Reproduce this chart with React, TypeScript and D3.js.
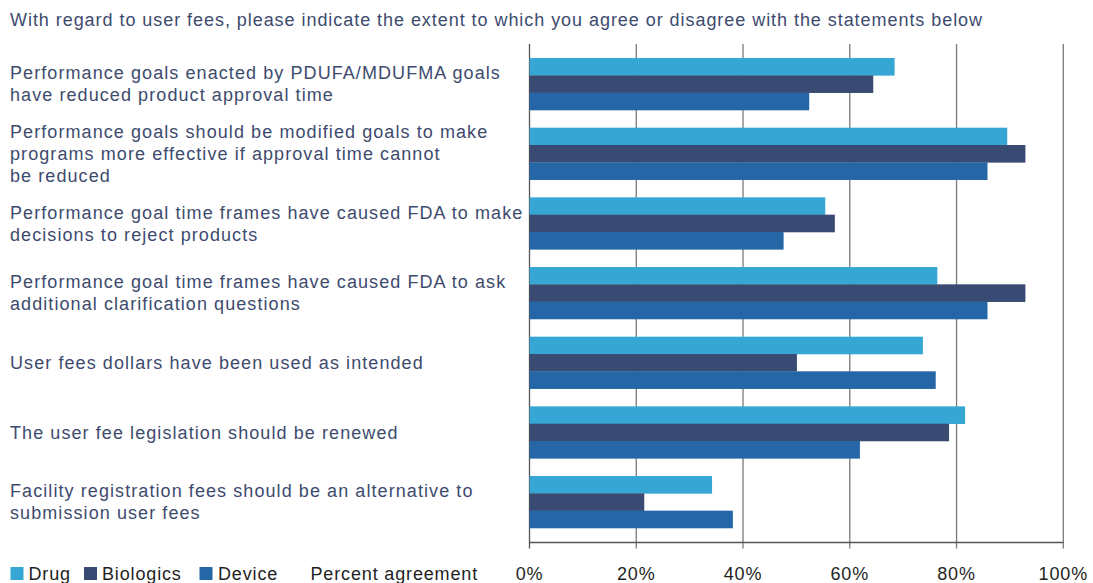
import React from "react";
import * as d3 from "d3";

const title =
  "With regard to user fees, please indicate the extent to which you agree or disagree with the statements below";

const categories: string[][] = [
  ["Performance goals enacted by PDUFA/MDUFMA goals", "have reduced product approval time"],
  ["Performance goals should be modified goals to make", "programs more effective if approval time cannot", "be reduced"],
  ["Performance goal time frames have caused FDA to make", "decisions to reject products"],
  ["Performance goal time frames have caused FDA to ask", "additional clarification questions"],
  ["User fees dollars have been used as intended"],
  ["The user fee legislation should be renewed"],
  ["Facility registration fees should be an alternative to", "submission user fees"],
];

const seriesNames = ["Drug", "Biologics", "Device"];
const drug = [68.4, 89.5, 55.4, 76.4, 73.7, 81.6, 34.2];
const biologics = [64.4, 92.9, 57.2, 92.9, 50.1, 78.6, 21.5];
const device = [52.4, 85.8, 47.6, 85.8, 76.1, 61.9, 38.1];
const ticks = [0, 20, 40, 60, 80, 100];

const colors = ["#36a7d5", "#394b73", "#2566a6"];
const labelColor = "#3d4b6e";
const darkText = "#1f1f1f";
const fontFamily = "'Liberation Sans', Arial, sans-serif";
const FS = 18;

export default function App() {
  const W = 1093;
  const H = 583;
  const x0 = 529.5;
  const x1 = 1063.3;
  const top = 44;
  const axisY = 542.5;

  const x = d3.scaleLinear().domain([0, 100]).range([x0, x1]);
  const keys = categories.map((_, i) => String(i));
  const y = d3
    .scaleBand<string>()
    .domain(keys)
    .range([49.17, 536.83])
    .paddingInner(0.254)
    .paddingOuter(0.127);
  const series = [drug, biologics, device];
  const ySub = d3
    .scaleBand<string>()
    .domain(seriesNames)
    .range([0, y.bandwidth()]);

  const lineH = 22;

  return (
    <svg
      width={W}
      height={H}
      style={{ position: "absolute", left: 0, top: 0, display: "block" }}
      fontFamily={fontFamily}
    >
      <rect width={W} height={H} fill="#ffffff" />
      <text x={10} y={26} fontSize={FS} fill={labelColor} letterSpacing={0.95}>
        {title}
      </text>

      {/* gridlines */}
      {ticks.map((t) => (
        <line
          key={"g" + t}
          x1={x(t)}
          x2={x(t)}
          y1={top}
          y2={axisY + 6}
          stroke={t === 0 ? "#555" : "#7a7a7a"}
          strokeWidth={1.3}
        />
      ))}
      <line x1={x0} x2={x1} y1={axisY} y2={axisY} stroke="#555" strokeWidth={1.3} />

      {/* bars */}
      {categories.map((_, i) => (
        <g key={"grp" + i} transform={`translate(0,${y(String(i))})`}>
          {series.map((vals, s) => (
            <rect
              key={s}
              x={x(0)}
              y={ySub(seriesNames[s])}
              width={x(vals[i]) - x(0)}
              height={ySub.bandwidth() + 0.3}
              fill={colors[s]}
            />
          ))}
        </g>
      ))}

      {/* category labels */}
      {categories.map((lines, i) => {
        const cy = (y(String(i)) as number) + y.bandwidth() / 2;
        const startY = cy - ((lines.length - 1) * lineH) / 2;
        return (
          <text key={"l" + i} fontSize={FS} fill={labelColor} letterSpacing={1.08}>
            {lines.map((ln, j) => (
              <tspan key={j} x={10} y={startY + j * lineH} dy="0.35em">
                {ln}
              </tspan>
            ))}
          </text>
        );
      })}

      {/* tick labels */}
      {ticks.map((t) => (
        <text
          key={"t" + t}
          x={x(t)}
          y={580}
          textAnchor="middle"
          fontSize={FS}
          fill={darkText}
          letterSpacing={0.85}
        >
          {t + "%"}
        </text>
      ))}

      {/* legend */}
      {[
        { sx: 10.5, tx: 28.5 },
        { sx: 84, tx: 102 },
        { sx: 199.5, tx: 218 },
      ].map((p, s) => (
        <g key={"lg" + s}>
          <rect x={p.sx} y={567} width={13} height={13} fill={colors[s]} />
          <text x={p.tx} y={580} fontSize={FS} fill={darkText} letterSpacing={0.85}>
            {seriesNames[s]}
          </text>
        </g>
      ))}
      <text x={310.5} y={580} fontSize={FS} fill={darkText} letterSpacing={0.85}>
        Percent agreement
      </text>
    </svg>
  );
}
